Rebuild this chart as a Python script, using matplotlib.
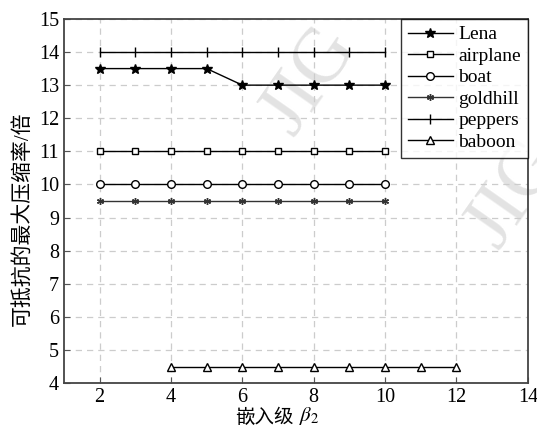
import matplotlib.pyplot as plt
import numpy as np

plt.rcParams["font.family"] = ["Liberation Serif", "Noto Sans CJK SC"]
plt.rcParams["mathtext.fontset"] = "stix"

# 嵌入级与最大压缩率
x_main = [2, 3, 4, 5, 6, 7, 8, 9, 10]
x_baboon = [4, 5, 6, 7, 8, 9, 10, 11, 12]
lena = [13.5, 13.5, 13.5, 13.5, 13, 13, 13, 13, 13]
airplane = [11, 11, 11, 11, 11, 11, 11, 11, 11]
boat = [10, 10, 10, 10, 10, 10, 10, 10, 10]
goldhill = [9.5, 9.5, 9.5, 9.5, 9.5, 9.5, 9.5, 9.5, 9.5]
peppers = [14, 14, 14, 14, 14, 14, 14, 14, 14]
baboon = [4.5, 4.5, 4.5, 4.5, 4.5, 4.5, 4.5, 4.5, 4.5]

fig = plt.figure(figsize=(5.37, 4.30), dpi=100)
ax = fig.add_axes([0.119, 0.109, 0.864, 0.847])

lw = 1.0
ax.plot(x_main, lena, "k-", marker="*", ms=7, lw=lw, label="Lena")
ax.plot(x_main, airplane, "k-", marker="s", ms=5, mfc="white", lw=lw, label="airplane")
ax.plot(x_main, boat, "k-", marker="o", ms=5.5, mfc="white", lw=lw, label="boat")
ax.plot(x_main, goldhill, "-", color="#333333", marker=(6, 2, 0), ms=5, lw=lw,
        label="goldhill")
ax.plot(x_main, peppers, "k-", marker="|", ms=7, lw=lw, label="peppers")
ax.plot(x_baboon, baboon, "k-", marker="^", ms=6, mfc="white", lw=lw, label="baboon")

ax.set_xlim(1, 14)
ax.set_ylim(4, 15)
ax.set_xticks(np.arange(2, 15, 2))
ax.set_yticks(np.arange(4, 16, 1))
ax.grid(True, color="#cccccc", linestyle=(0, (5, 4)), lw=0.9)
ax.tick_params(direction="in", length=4, labelsize=14.5, color="#555555")
for s in ax.spines.values():
    s.set_color("#444444")
    s.set_linewidth(1.3)

# 横轴标题: 中文与公式分开绘制
fig.text(0.546, 0.006, "嵌入级", fontsize=14, ha="right", va="bottom")
fig.text(0.556, 0.006, r"$\beta_2$", fontsize=15, ha="left", va="bottom")
ax.set_ylabel("可抵抗的最大压缩率/倍", fontsize=15)
ax.yaxis.set_label_coords(-0.068, 0.45)

leg = ax.legend(loc="upper right", borderaxespad=0, fancybox=False, fontsize=14,
                handlelength=2.3, handletextpad=0.3, labelspacing=0.2,
                borderpad=0.35)
leg.get_frame().set_edgecolor("black")
leg.get_frame().set_linewidth(1.0)

# 水印
for tx, ty in [(0.53, 0.83), (0.97, 0.52)]:
    ax.text(tx, ty, "JIG", transform=ax.transAxes, fontsize=56, color="#dcdcdc",
            rotation=55, ha="center", va="center", zorder=0, alpha=0.8)

fig.savefig("out.png", dpi=100)
